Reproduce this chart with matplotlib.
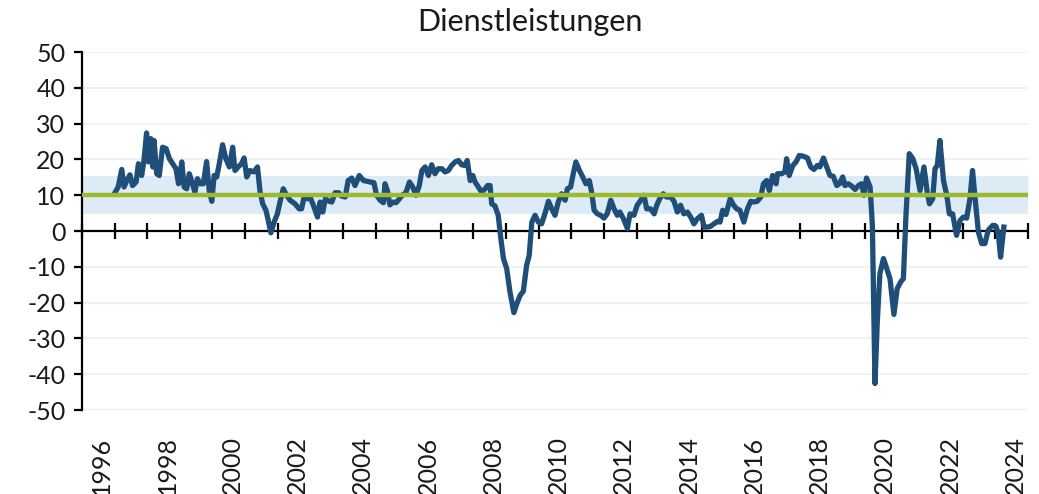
import numpy as np
import matplotlib
matplotlib.use("Agg")
import matplotlib.pyplot as plt
import matplotlib.ticker as mticker

# Saldo Dienstleistungen (Zeitachse in Jahren)
jahr = [
    1996.40, 1996.50, 1996.61, 1996.68, 1996.76, 1996.86, 1996.94, 1997.05, 1997.12, 1997.22,
    1997.29, 1997.37, 1997.43, 1997.50, 1997.56, 1997.60, 1997.68, 1997.76, 1997.86, 1997.97,
    1998.07, 1998.17, 1998.27, 1998.35, 1998.45, 1998.52, 1998.60, 1998.68, 1998.76, 1998.85,
    1998.93, 1999.01, 1999.11, 1999.21, 1999.29, 1999.37, 1999.44, 1999.52, 1999.60, 1999.70,
    1999.80, 1999.91, 2000.01, 2000.08, 2000.18, 2000.28, 2000.36, 2000.44, 2000.54, 2000.66,
    2000.77, 2000.85, 2000.93, 2001.03, 2001.10, 2001.18, 2001.28, 2001.38, 2001.46, 2001.56,
    2001.66, 2001.77, 2001.92, 2002.05, 2002.12, 2002.20, 2002.30, 2002.38, 2002.48, 2002.61,
    2002.69, 2002.77, 2002.85, 2002.97, 2003.05, 2003.15, 2003.26, 2003.34, 2003.46, 2003.55,
    2003.66, 2003.76, 2003.89, 2004.02, 2004.12, 2004.22, 2004.34, 2004.42, 2004.53, 2004.63,
    2004.68, 2004.75, 2004.83, 2004.93, 2005.02, 2005.12, 2005.22, 2005.32, 2005.43, 2005.53,
    2005.63, 2005.73, 2005.81, 2005.91, 2006.01, 2006.11, 2006.21, 2006.31, 2006.42, 2006.52,
    2006.62, 2006.72, 2006.83, 2006.93, 2007.03, 2007.13, 2007.20, 2007.29, 2007.37, 2007.44,
    2007.54, 2007.64, 2007.75, 2007.82, 2007.90, 2007.95, 2008.05, 2008.15, 2008.23, 2008.31,
    2008.41, 2008.51, 2008.63, 2008.72, 2008.82, 2008.92, 2009.02, 2009.10, 2009.18, 2009.28,
    2009.38, 2009.48, 2009.58, 2009.69, 2009.79, 2009.89, 2009.99,
    2010.09, 2010.20, 2010.27, 2010.37, 2010.45, 2010.53, 2010.64, 2010.74, 2010.84, 2010.94,
    2011.01, 2011.09, 2011.19, 2011.29, 2011.39, 2011.49, 2011.60, 2011.70, 2011.80, 2011.88,
    2011.99, 2012.11, 2012.19, 2012.31, 2012.41, 2012.52, 2012.62, 2012.70, 2012.82, 2012.93,
    2013.01, 2013.11, 2013.21, 2013.31, 2013.44, 2013.54, 2013.64, 2013.74, 2013.84, 2013.95,
    2014.05, 2014.15, 2014.25, 2014.38, 2014.46, 2014.56, 2014.66, 2014.76, 2014.87, 2014.95,
    2015.03, 2015.13, 2015.26, 2015.36, 2015.46, 2015.56, 2015.68, 2015.79, 2015.89, 2015.99,
    2016.09, 2016.20, 2016.28, 2016.38, 2016.46, 2016.56, 2016.67, 2016.71, 2016.84, 2016.94,
    2016.99, 2017.07, 2017.18, 2017.28, 2017.38, 2017.50, 2017.63, 2017.73, 2017.83, 2017.93,
    2018.01, 2018.12, 2018.22, 2018.32, 2018.42, 2018.53, 2018.61, 2018.71, 2018.78, 2018.88,
    2018.98, 2019.09, 2019.19, 2019.29, 2019.36, 2019.44, 2019.55, 2019.62, 2019.70, 2019.77,
    2019.85, 2019.96, 2020.06, 2020.16, 2020.28, 2020.38, 2020.49, 2020.57, 2020.65, 2020.75,
    2020.86, 2020.96, 2021.08, 2021.20, 2021.30, 2021.37, 2021.47, 2021.54, 2021.61, 2021.69,
    2021.80, 2021.90, 2021.98, 2022.08, 2022.20, 2022.31, 2022.41, 2022.51, 2022.61, 2022.69,
    2022.77, 2022.87, 2022.97, 2023.07, 2023.17, 2023.31, 2023.41, 2023.48, 2023.55, 2023.65,
]
saldo = [
    10.7, 12.3, 17.2, 12.3, 14.0, 15.7, 12.7, 13.7, 18.8, 15.5,
    19.7, 27.4, 19.3, 25.8, 17.9, 25.3, 16.0, 15.5, 23.4, 23.0,
    20.2, 18.8, 17.4, 13.2, 19.3, 12.3, 11.8, 16.0, 13.7, 10.9,
    14.6, 13.2, 13.2, 19.4, 11.3, 8.3, 15.5, 15.1, 18.8, 24.1,
    20.2, 17.9, 23.4, 16.9, 17.9, 18.8, 20.4, 15.1, 16.9, 16.5,
    17.9, 10.9, 7.6, 5.8, 3.0, -0.5, 2.5, 4.8, 8.1, 11.8,
    10.0, 8.6, 7.6, 6.2, 6.2, 9.5, 9.0, 9.5, 7.3, 3.9,
    8.1, 5.3, 9.0, 8.3, 8.1, 10.7, 10.7, 9.8, 9.5, 14.1,
    14.8, 12.7, 15.5, 14.1, 13.9, 13.7, 13.5, 10.0, 8.6, 7.9,
    13.2, 11.3, 7.3, 8.1, 7.9, 9.0, 10.1, 10.7, 13.7, 12.3,
    10.0, 12.7, 16.9, 17.9, 15.5, 18.5, 16.0, 17.4, 17.4, 16.5,
    16.9, 18.3, 19.3, 19.7, 18.5, 18.3, 19.7, 14.1, 15.5, 13.7,
    12.3, 10.9, 11.8, 12.7, 12.7, 7.6, 7.0, 4.4, -2.1, -7.7,
    -10.5, -17.0, -22.8, -20.3, -18.0, -16.8, -9.6, -6.8, 2.5, 4.4,
    2.5, 2.0, 4.8, 8.3, 6.2, 4.4, 8.1,
    10.4, 8.6, 11.8, 12.3, 16.0, 19.3, 16.9, 15.1, 13.2, 14.1,
    11.1, 5.8, 4.8, 4.4, 3.6, 4.8, 8.6, 6.2, 4.4, 5.3,
    3.4, 0.7, 4.8, 4.4, 7.2, 8.6, 10.0, 6.2, 6.2, 4.8,
    7.2, 9.2, 10.4, 9.5, 9.5, 8.3, 5.3, 7.2, 4.8, 5.3,
    3.9, 2.0, 3.4, 4.4, 1.1, 1.1, 1.3, 2.0, 2.7, 2.5,
    5.8, 4.6, 9.0, 7.3, 6.2, 5.8, 2.5, 6.2, 8.3, 8.1,
    8.3, 9.5, 13.2, 14.1, 11.3, 15.5, 13.2, 16.0, 16.0, 16.5,
    20.2, 15.5, 18.3, 19.3, 21.1, 20.9, 20.4, 17.9, 17.2, 18.3,
    17.9, 20.4, 17.9, 15.5, 15.3, 12.7, 13.2, 15.1, 12.7, 13.2,
    12.6, 11.6, 12.7, 13.2, 10.0, 14.8, 12.3, 1.6, -42.6, -25.4,
    -11.9, -7.7, -10.5, -13.3, -23.3, -16.1, -14.2, -13.3, 4.4, 21.6,
    20.2, 17.4, 11.3, 17.9, 10.9, 7.6, 9.0, 17.4, 18.3, 25.3,
    14.1, 10.0, 4.8, 4.8, -1.2, 3.0, 3.9, 3.6, 9.0, 16.9,
    9.0, -0.3, -3.5, -3.5, 0.2, 1.6, 1.3, -0.7, -7.3, 1.1,
]
mittelwert = 10.1
band_unten = 4.8
band_oben = 15.4
jahre_label = list(range(1996, 2025, 2))

blau = "#1F4E79"
gruen = "#9BBB2C"
hellblau = "#DDEBF7"

plt.rcParams["font.family"] = ["Lato", "DejaVu Sans"]
plt.rcParams["axes.unicode_minus"] = False

fig = plt.figure(figsize=(10.39, 4.94), dpi=100)
ax = fig.add_axes([0.0789, 0.170, 0.9105, 0.7247])

x0 = 1995.39
x1 = 2024.39
ax.set_xlim(x0, x1)
ax.set_ylim(-50, 50)

# Gitterlinien
for g in range(-50, 51, 10):
    if g != 0:
        ax.axhline(g, color="#EEF2F2", lw=1.6, zorder=0)

ax.axhspan(band_unten, band_oben, color=hellblau, lw=0, zorder=1)

# Nulllinie mit Jahresstrichen
ax.axhline(0, color="black", lw=1.6, zorder=2)
striche = np.arange(x0, x1 + 0.01, 1.0)
ax.plot(striche, np.zeros(len(striche)), ls="none", marker="|",
        markersize=12, mew=1.6, color="black", zorder=2, clip_on=False)

ax.axhline(mittelwert, color=gruen, lw=3.2, zorder=4)
ax.plot(jahr, saldo, color=blau, lw=3.8, zorder=3, solid_joinstyle="round")

ax.spines["top"].set_visible(False)
ax.spines["right"].set_visible(False)
ax.spines["bottom"].set_visible(False)
ax.spines["left"].set_linewidth(1.6)

ax.yaxis.set_major_locator(mticker.MultipleLocator(10))
ax.tick_params(axis="y", direction="out", length=6, width=1.6,
               labelsize=18, pad=6, colors="black")
ax.set_xticks(jahre_label)
ax.set_xticklabels([str(j) for j in jahre_label], rotation=90)
ax.tick_params(axis="x", length=0, labelsize=18, pad=19)
for t in ax.get_xticklabels() + ax.get_yticklabels():
    t.set_color("#1A1A1A")

fig.text(0.51, 0.955, "Dienstleistungen", ha="center", va="center",
         fontsize=22, color="#1A1A1A")

fig.savefig("out.png", dpi=100)
